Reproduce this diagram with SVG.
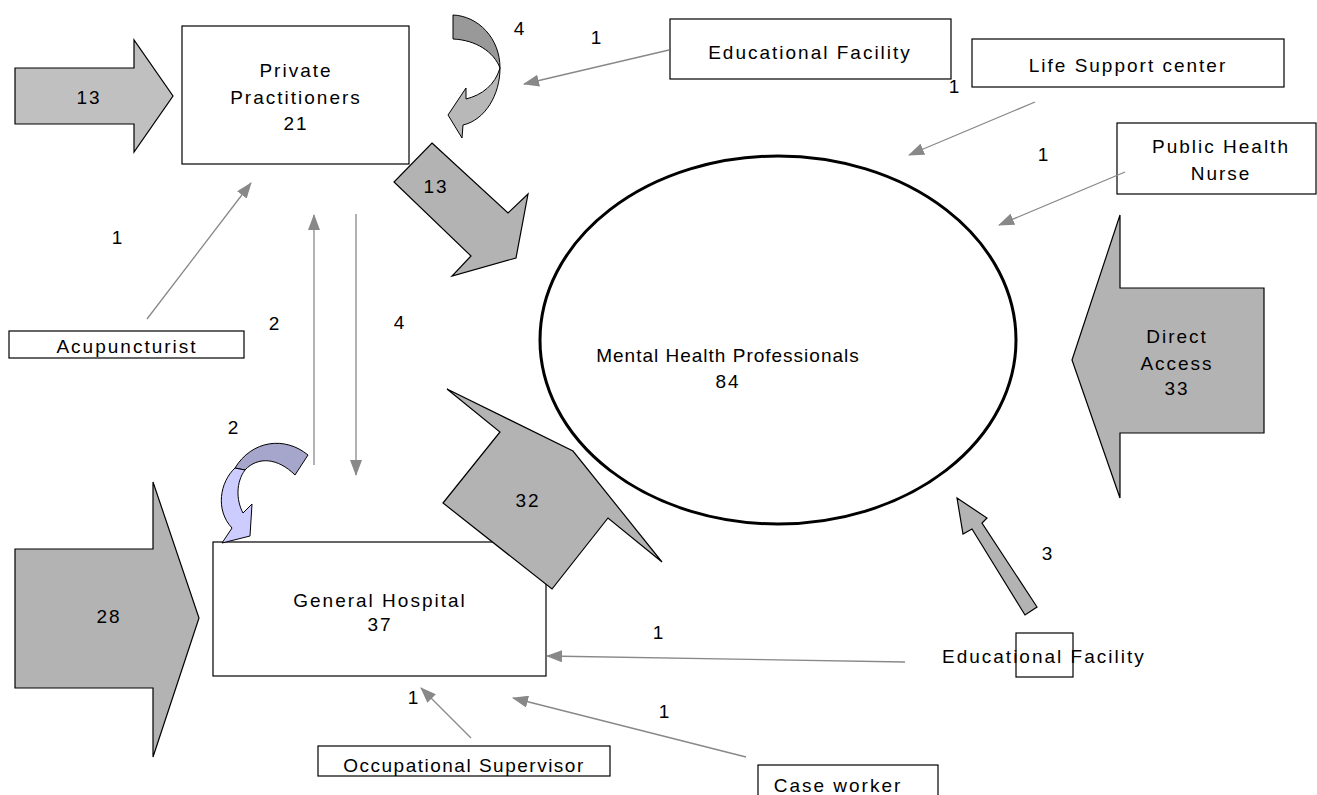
<svg xmlns="http://www.w3.org/2000/svg" width="1317" height="795" viewBox="0 0 1317 795">
<style>
text{font-family:"Liberation Sans",Arial,sans-serif;font-size:19px;letter-spacing:2px;fill:#000;text-anchor:middle}
.box{fill:#fff;stroke:#000;stroke-width:1.2}
.blk{fill:#c0c0c0;stroke:#000;stroke-width:1.2;stroke-linejoin:miter}
.blk2{fill:#b3b3b3;stroke:#000;stroke-width:1.2}
.con{stroke:#888;stroke-width:1.3;fill:none;marker-end:url(#ah)}
</style>
<defs>
<marker id="ah" markerUnits="userSpaceOnUse" markerWidth="16" markerHeight="12" refX="15" refY="6" orient="auto">
<path d="M0,0 L16,6 L0,12 Z" fill="#888"/>
</marker>
</defs>
<rect width="1317" height="795" fill="#fff"/>

<g id="mhp">
<ellipse cx="778" cy="340" rx="238" ry="184" fill="#fff" stroke="#000" stroke-width="3"/>
<text x="728" y="362" style="letter-spacing:1px">Mental Health Professionals</text>
<text x="728" y="388">84</text>
</g>

<g id="private-practitioners">
<rect class="box" x="182" y="26" width="227" height="138"/>
<text x="296" y="77">Private</text>
<text x="296" y="104">Practitioners</text>
<text x="296" y="130">21</text>
</g>

<g id="general-hospital">
<rect class="box" x="213" y="542" width="333" height="134"/>
<text x="380" y="607">General Hospital</text>
<text x="380" y="631">37</text>
</g>

<g id="edu-top">
<rect class="box" x="670" y="19" width="281" height="60"/>
<text x="810" y="59">Educational Facility</text>
</g>

<g id="life-support">
<rect class="box" x="972" y="39" width="312" height="48"/>
<text x="1128" y="72">Life Support center</text>
</g>

<g id="public-health">
<rect class="box" x="1117" y="123" width="199" height="71"/>
<text x="1221" y="153">Public Health</text>
<text x="1221" y="180">Nurse</text>
</g>

<g id="acupuncturist">
<rect class="box" x="9" y="331" width="235" height="27"/>
<text x="127" y="353">Acupuncturist</text>
</g>

<g id="occupational">
<rect class="box" x="318" y="746" width="292" height="30"/>
<text x="464" y="772" style="letter-spacing:1.5px">Occupational Supervisor</text>
</g>

<g id="case-worker">
<rect class="box" x="758" y="765" width="180" height="40"/>
<text x="838" y="792">Case worker</text>
</g>

<g id="edu-bottom">
<rect x="1016" y="633" width="57" height="44" fill="none" stroke="#000" stroke-width="1.2"/>
<text x="942" y="663" style="text-anchor:start">Educational Facility</text>
</g>

<g id="arrow-13-in">
<path class="blk" d="M15,68 H134 V40 L173,96 L134,152 V124 H15 Z"/>
<text x="89" y="104">13</text>
</g>

<g id="arrow-28-in">
<path class="blk2" d="M15,549 H153 V482 L199,618 L153,757 V688 H15 Z"/>
<text x="109" y="623">28</text>
</g>

<g id="arrow-direct">
<path class="blk2" d="M1072,360 L1120,215 V288 H1264 V433 H1120 V498 Z"/>
<text x="1177" y="343">Direct</text>
<text x="1177" y="370">Access</text>
<text x="1177" y="395">33</text>
</g>

<g id="arrow-13-diag">
<path class="blk2" d="M432,143 L508,213 L528,194 L516,258 L452,276 L471,256 L394,182 Z"/>
<text x="436" y="193">13</text>
</g>

<g id="arrow-32">
<path class="blk2" d="M447,389 L573,451 L662,562 L608,518 L552,589 L443,503 L500,432 Z"/>
<text x="528" y="507">32</text>
</g>

<g id="arrow-3">
<path class="blk2" d="M957,498 L987,518 L982,523 L1037,607 L1025,615 L972,529 L963,534 Z"/>
</g>

<g id="loop-4">
<path d="M453,15 C478,16 500,38 500,68 C494,52 476,40 453,39 Z" fill="#999" stroke="#000" stroke-width="1"/>
<path d="M500,68 C500,95 485,120 463,125 L462,138 L448,115 L466,88 L466,99 C482,95 495,85 500,68 Z" fill="#b8b8b8" stroke="#000" stroke-width="1"/>
</g>

<g id="loop-2">
<path d="M308,455 C285,436 252,440 235,468 L245,470 C258,456 278,458 295,475 Z" fill="#a6a6cc" stroke="#000" stroke-width="1"/>
<path d="M235,468 C220,482 215,510 232,528 L222,543 L250,536 L252,504 L243,513 C236,500 236,482 245,470 Z" fill="#ccccff" stroke="#000" stroke-width="1"/>
</g>

<g id="connectors">
<line class="con" x1="669" y1="50" x2="524" y2="84"/>
<line class="con" x1="1035" y1="102" x2="909" y2="155"/>
<line class="con" x1="1125" y1="172" x2="999" y2="225"/>
<line class="con" x1="147" y1="319" x2="251" y2="183"/>
<line class="con" x1="314" y1="465" x2="314" y2="215"/>
<line class="con" x1="356" y1="214" x2="356" y2="475"/>
<line class="con" x1="905" y1="662" x2="547" y2="656"/>
<line class="con" x1="471" y1="738" x2="421" y2="688"/>
<line class="con" x1="746" y1="757" x2="513" y2="698"/>
</g>

<g id="labels">
<text x="520" y="35">4</text>
<text x="597" y="44">1</text>
<text x="955" y="93">1</text>
<text x="1044" y="161">1</text>
<text x="118" y="244">1</text>
<text x="275" y="330">2</text>
<text x="400" y="329">4</text>
<text x="234" y="434">2</text>
<text x="659" y="639">1</text>
<text x="1048" y="560">3</text>
<text x="414" y="704">1</text>
<text x="665" y="718">1</text>
</g>
</svg>
